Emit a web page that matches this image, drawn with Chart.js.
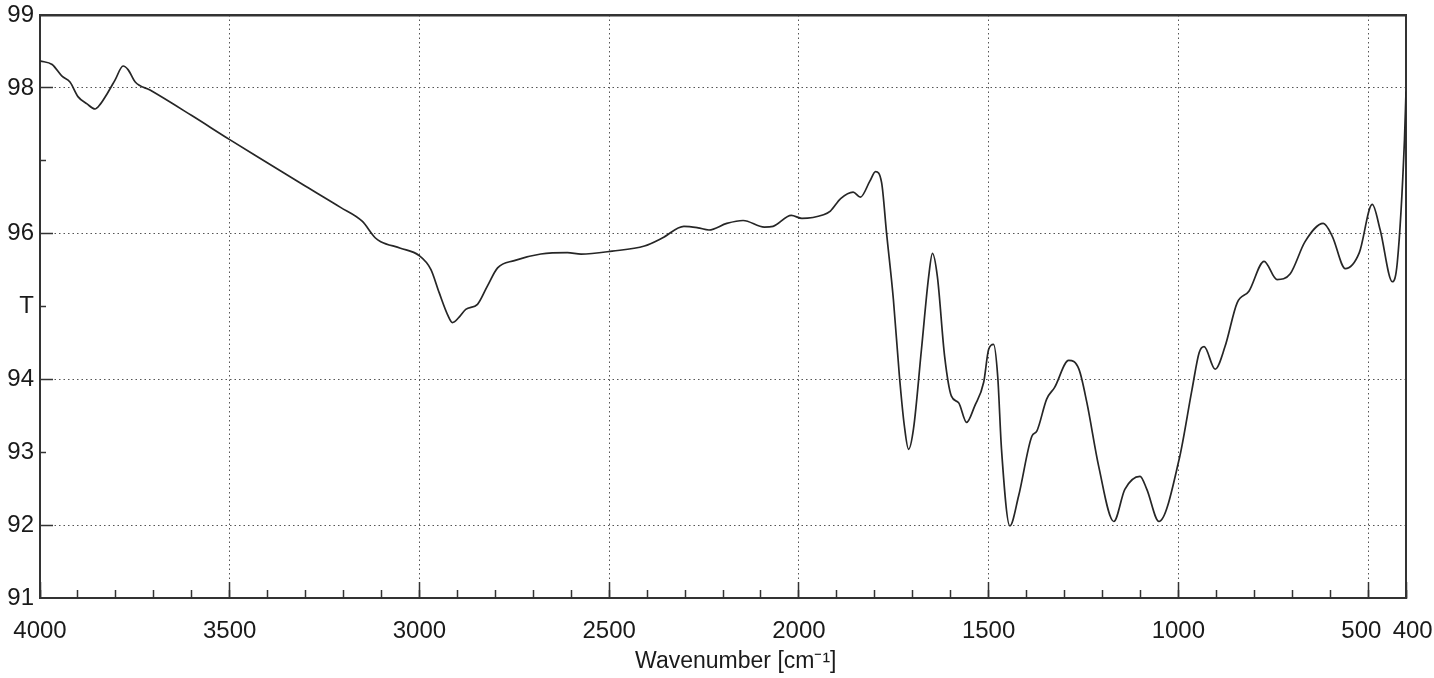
<!DOCTYPE html>
<html>
<head>
<meta charset="utf-8">
<title>IR spectrum</title>
<script src="https://cdn.jsdelivr.net/npm/chart.js@4.4.0/dist/chart.umd.min.js"></script>
<style>
  html, body { margin: 0; padding: 0; background: #fff; }
  #chart { display: block; }
</style>
</head>
<body>
<canvas id="chart" width="1434" height="678"></canvas>
<script>
// spectrum, high wavenumber first
const wavenumber = [
  4000, 3968, 3942, 3921, 3900, 3876, 3855, 3842, 3823, 3802,
  3781, 3768, 3749, 3710, 3600, 3500, 3400, 3300, 3208, 3151,
  3116, 3102, 3050, 3001, 2970, 2948, 2926, 2913, 2896, 2878,
  2847, 2821, 2794, 2750, 2680, 2610, 2574, 2492, 2407, 2360,
  2303, 2266, 2237, 2190, 2147, 2091, 2068, 2020, 1992, 1935,
  1917, 1890, 1857, 1838, 1813, 1798, 1782, 1769, 1751, 1735,
  1722, 1711, 1698, 1677, 1658, 1648, 1635, 1616, 1598, 1579,
  1558, 1537, 1513, 1500, 1487, 1476, 1466, 1444, 1421, 1386,
  1373, 1347, 1326, 1289, 1262, 1241, 1210, 1170, 1141, 1101,
  1083, 1051, 998, 964, 945, 932, 903, 877, 845, 814,
  774, 740, 705, 666, 618, 594, 560, 523, 489, 468,
  436, 423, 404, 400,
];

const transmittance = [
  98.37, 98.32, 98.16, 98.08, 97.88, 97.78, 97.71, 97.77, 97.92, 98.11,
  98.3, 98.25, 98.08, 97.97, 97.62, 97.29, 96.97, 96.65, 96.36, 96.17,
  95.94, 95.89, 95.8, 95.7, 95.51, 95.19, 94.89, 94.78, 94.85, 94.96,
  95.03, 95.28, 95.53, 95.63, 95.72, 95.74, 95.72, 95.76, 95.83, 95.94,
  96.1, 96.08, 96.05, 96.14, 96.18, 96.09, 96.1, 96.25, 96.21, 96.26,
  96.31, 96.48, 96.57, 96.5, 96.72, 96.85, 96.7, 96.01, 95.1, 94.04,
  93.36, 93.04, 93.32, 94.41, 95.41, 95.73, 95.41, 94.32, 93.77, 93.68,
  93.41, 93.63, 93.96, 94.41, 94.48, 94.04, 93.04, 91.99, 92.4, 93.22,
  93.29, 93.73, 93.89, 94.26, 94.14, 93.68, 92.81, 92.05, 92.49, 92.67,
  92.49, 92.05, 92.9, 93.86, 94.37, 94.45, 94.14, 94.45, 95.05, 95.21,
  95.62, 95.37, 95.45, 95.89, 96.14, 95.96, 95.52, 95.74, 96.4, 96.05,
  95.34, 95.6, 97.29, 97.95,
];

const xTickValues = [4000, 3500, 3000, 2500, 2000, 1500, 1000, 500, 400];
const xTickLabels = ["4000", "3500", "3000", "2500", "2000", "1500", "1000", "500  ", "  400"];
const xGridValues = [3500, 3000, 2500, 2000, 1500, 1000, 500];

const yTickValues = [91, 92, 93, 94, 95, 96, 97, 98, 99];
const yTickLabels = ["91", "92", "93", "94", "T", "96", "", "98", "99"];
const yGridValues = [98, 96, 94, 92];
const yMinorValues = [93, 95, 97];

const ink = "#262626";
const gridInk = "#555";

Chart.defaults.font.family = '"Liberation Sans", Arial, sans-serif';
Chart.defaults.color = "#1a1a1a";

const points = wavenumber.map((w, i) => ({ x: w, y: transmittance[i] }));

const tickValue = (c) => (c.tick ? c.tick.value : null);

// keep label overhang from pushing the plot area in
const noPad = (s) => {
  s.paddingLeft = 0;
  s.paddingRight = 0;
  s.paddingTop = 0;
  s.paddingBottom = 0;
};

// bare frame line on top / right
const frameAxis = (position) => ({
  type: "linear",
  position: position,
  min: 0,
  max: 1,
  afterFit: (s) => {
    if (position === "top") s.height = 0;
    else s.width = 0;
    noPad(s);
  },
  ticks: { display: false },
  grid: { display: false },
  border: { display: true, color: "#333", width: position === "top" ? 2.5 : 2 },
});

new Chart(document.getElementById("chart"), {
  type: "line",
  data: {
    datasets: [
      {
        label: "T",
        data: points,
        borderColor: ink,
        borderWidth: 1.7,
        pointRadius: 0,
        cubicInterpolationMode: "monotone",
        fill: false,
      },
    ],
  },
  options: {
    responsive: false,
    animation: false,
    devicePixelRatio: 1,
    layout: { padding: { top: 15, right: 28, bottom: 0, left: 0 } },
    plugins: {
      legend: { display: false },
      tooltip: { enabled: false },
    },
    scales: {
      x: {
        type: "linear",
        position: "bottom",
        weight: 1,
        min: 400,
        max: 4000,
        reverse: true,
        afterBuildTicks: (s) => {
          s.ticks = xTickValues.map((v) => ({ value: v }));
        },
        afterFit: (s) => {
          s.height = 80;
          noPad(s);
        },
        ticks: {
          autoSkip: false,
          maxRotation: 0,
          padding: 35,
          font: { size: 24 },
          color: "#1a1a1a",
          callback: (v) => xTickLabels[xTickValues.indexOf(v)],
        },
        grid: {
          color: (c) => (xGridValues.includes(tickValue(c)) ? gridInk : "transparent"),
          lineWidth: 1,
          tickLength: -16,
          tickColor: "#333",
          tickWidth: 1.5,
          tickBorderDash: [],
        },
        border: { display: true, color: "#333", width: 2, dash: [1.5, 3] },
        title: {
          display: true,
          text: "\u00a0\u00a0\u00a0\u00a0Wavenumber [cm\u207b\u00b9]",
          font: { size: 23 },
          color: "#1a1a1a",
          padding: { top: 0, bottom: 3 },
        },
      },
      xMinor: {
        type: "linear",
        position: "bottom",
        weight: 0,
        min: 400,
        max: 4000,
        reverse: true,
        afterFit: (s) => {
          s.height = 0;
          noPad(s);
        },
        ticks: { stepSize: 100, display: false },
        grid: {
          drawOnChartArea: false,
          tickLength: -8,
          tickColor: "#333",
          tickWidth: 1.5,
          tickBorderDash: [],
        },
        border: { display: false },
      },
      y: {
        type: "linear",
        position: "left",
        weight: 1,
        min: 91,
        max: 99,
        afterBuildTicks: (s) => {
          s.ticks = yTickValues.map((v) => ({ value: v }));
        },
        afterFit: (s) => {
          s.width = 40;
          noPad(s);
        },
        ticks: {
          autoSkip: false,
          padding: 19,
          font: { size: 24 },
          color: "#1a1a1a",
          callback: (v) => yTickLabels[yTickValues.indexOf(v)],
        },
        grid: {
          color: (c) => (yGridValues.includes(tickValue(c)) ? gridInk : "transparent"),
          lineWidth: 1,
          tickLength: -13,
          tickColor: (c) => (yGridValues.includes(tickValue(c)) ? "#333" : "transparent"),
          tickWidth: 1.5,
          tickBorderDash: [],
        },
        border: { display: true, color: "#333", width: 2, dash: [1.5, 3] },
      },
      yMinor: {
        type: "linear",
        position: "left",
        weight: 0,
        min: 91,
        max: 99,
        afterBuildTicks: (s) => {
          s.ticks = yMinorValues.map((v) => ({ value: v }));
        },
        afterFit: (s) => {
          s.width = 0;
          noPad(s);
        },
        ticks: { display: false },
        grid: {
          drawOnChartArea: false,
          tickLength: -6,
          tickColor: "#333",
          tickWidth: 1.5,
          tickBorderDash: [],
        },
        border: { display: false },
      },
      xTop: frameAxis("top"),
      yRight: frameAxis("right"),
    },
  },
});
</script>
</body>
</html>
